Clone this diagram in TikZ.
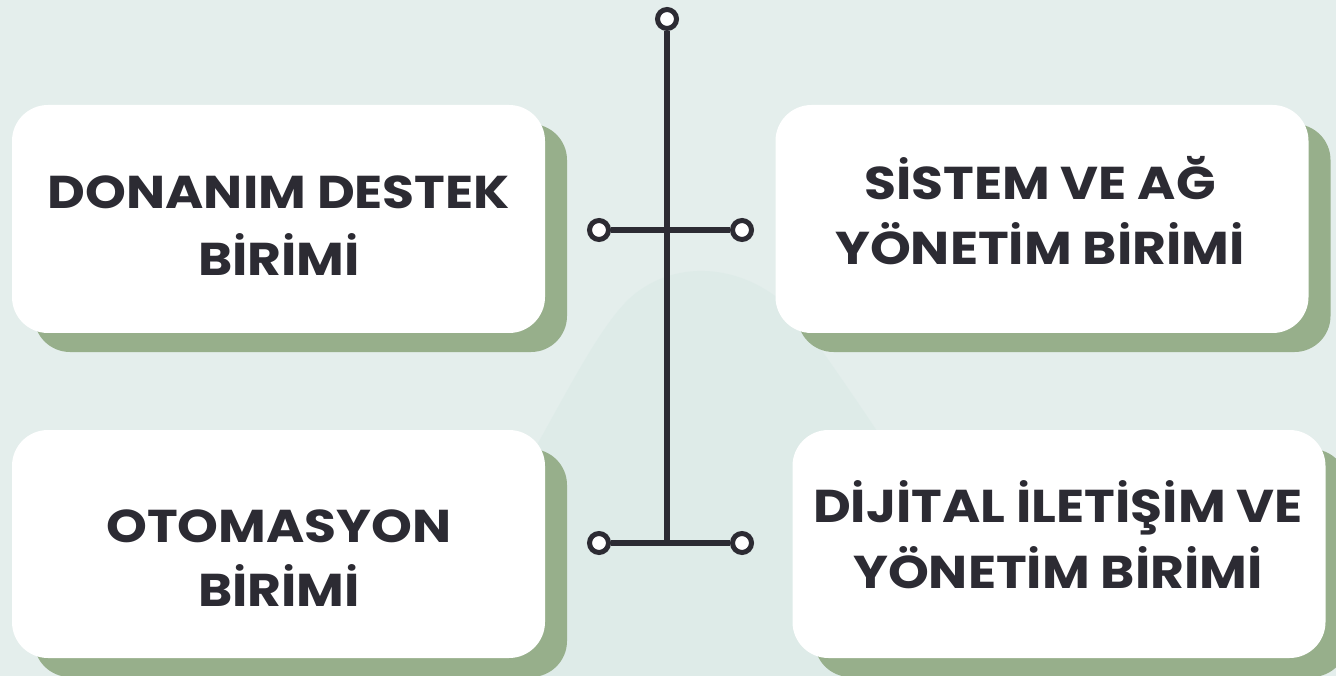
\documentclass[tikz,border=0pt]{standalone}
\usepackage{fontspec}
\setmainfont{Poppins}[FakeStretch=1.13]
\usetikzlibrary{shadows}
\definecolor{bg}{HTML}{E4EEEC}
\definecolor{bghill}{HTML}{D7E9E5}
\definecolor{ink}{HTML}{2C2B33}
\definecolor{sage}{HTML}{97AF8B}
\begin{document}
\begin{tikzpicture}[x=1pt,y=-1pt,
  card/.style={fill=white, rounded corners=36pt, minimum width=533pt, minimum height=228pt,
    inner sep=0pt, draw=none,
    drop shadow={shadow xshift=22pt, shadow yshift=-19pt, fill=sage, opacity=1}},
  lbl/.style={font=\fontsize{46}{46}\selectfont\bfseries, text=ink, anchor=base, inner sep=0pt},
  ring/.style={circle, draw=ink, fill=white, line width=5pt, minimum size=19pt, inner sep=0pt},
  wire/.style={draw=ink, line width=5.5pt}]
% background
\fill[bg] (0,0) rectangle (1336,676);
\useasboundingbox (0,0) rectangle (1336,676);
\fill[bghill, opacity=0.45] (380,676) .. controls (520,520) and (580,330) .. (640,290)
  .. controls (690,255) and (760,270) .. (800,320) .. controls (880,430) and (960,560) .. (1040,676) -- cycle;
% cards
\node[card] (b1) at (278.5,219) {};
\node[card] (b2) at (1042,219) {};
\node[card] (b3) at (278.5,544) {};
\node[card] (b4) at (1059,544) {};
% labels
\node[lbl] (t1a) at (279,209) {DONANIM DESTEK};
\node[lbl] (t1b) at (279,276) {BİRİMİ};
\node[lbl] (t2a) at (1040,200) {SİSTEM VE AĞ};
\node[lbl] (t2b) at (1040,265) {YÖNETİM BİRİMİ};
\node[lbl] (t3a) at (279,542) {OTOMASYON};
\node[lbl] (t3b) at (279,606) {BİRİMİ};
\node[lbl] (t4a) at (1058,522) {DİJİTAL İLETİŞİM VE};
\node[lbl] (t4b) at (1058,588) {YÖNETİM BİRİMİ};
% connector
\node[ring] (top) at (667,19) {};
\node[ring] (l1) at (599,230) {};
\node[ring] (r1) at (742,230) {};
\node[ring] (l2) at (599,543) {};
\node[ring] (r2) at (742,543) {};
\coordinate (jb) at (667,543);
\draw[wire] (top) -- (jb);
\draw[wire] (l1) -- (r1);
\draw[wire] (l2) -- (r2);
\end{tikzpicture}
\end{document}
